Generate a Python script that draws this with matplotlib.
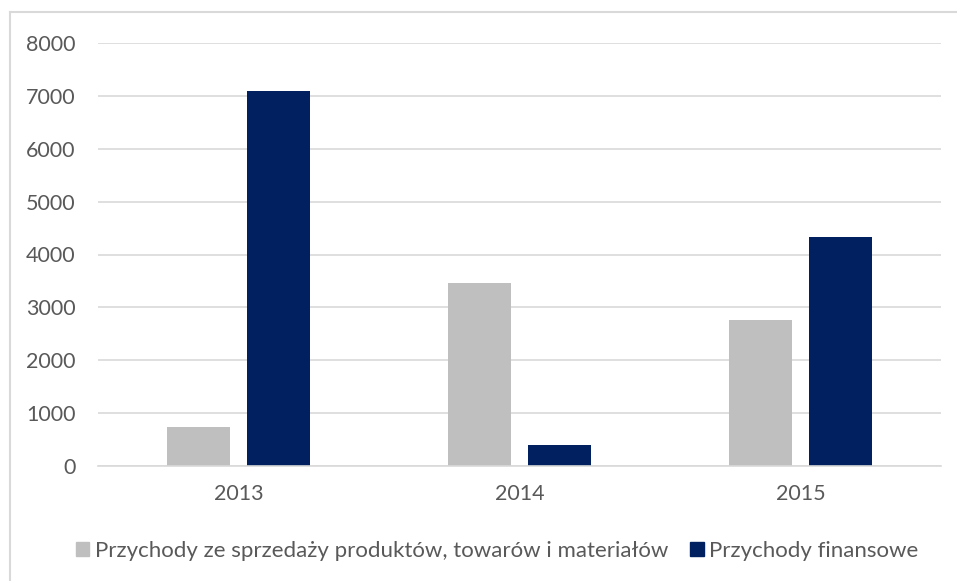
import numpy as np
import matplotlib.pyplot as plt
from matplotlib.lines import Line2D
from matplotlib.patches import Patch

# DATA
years = ['2013', '2014', '2015']
sprzedaz = [735, 3460, 2770]
finansowe = [7090, 400, 4340]
series_names = ['Przychody ze sprzedaży produktów, towarów i materiałów', 'Przychody finansowe']
yticks = [0, 1000, 2000, 3000, 4000, 5000, 6000, 7000, 8000]

grayColor = '#bfbfbf'
navyColor = '#002060'
textColor = '#595959'
gridColor = '#d9d9d9'

plt.rcParams['font.family'] = ['Lato', 'DejaVu Sans']

fig = plt.figure(figsize=(9.57, 5.81), dpi=100)
ax = fig.add_axes([98 / 957, 1 - 466 / 581, (941 - 98) / 957, (466 - 43) / 581])

x = np.arange(len(years))
width = 0.224
gap = 0.06
ax.bar(x - (width + gap) / 2, sprzedaz, width, color=grayColor, zorder=3)
ax.bar(x + (width + gap) / 2, finansowe, width, color=navyColor, zorder=3)

ax.set_xlim(-0.5, 2.5)
ax.set_ylim(0, 8000)
ax.set_yticks(yticks)
ax.set_yticklabels([str(v) for v in yticks])
ax.set_xticks(x)
ax.set_xticklabels(years)
ax.tick_params(length=0, labelsize=15.5, labelcolor=textColor)
ax.tick_params(axis='y', pad=16)
ax.tick_params(axis='x', pad=13)

ax.yaxis.grid(True, color=gridColor, linewidth=1.2, zorder=0)
for side in ['top', 'right', 'left']:
    ax.spines[side].set_visible(False)
ax.spines['bottom'].set_color(gridColor)
ax.spines['bottom'].set_linewidth(1.2)
ax.spines['bottom'].set_zorder(4)

# outer chart border (only left and top visible)
fig.add_artist(Line2D([10 / 957, 10 / 957], [0, 1 - 12 / 581], color=gridColor, linewidth=1.5))
fig.add_artist(Line2D([10 / 957, 1], [1 - 12 / 581, 1 - 12 / 581], color=gridColor, linewidth=1.5))

handles = [Patch(color=grayColor), Patch(color=navyColor)]
fig.legend(handles, series_names, loc='center', bbox_to_anchor=(497 / 957, 1 - 551 / 581),
           ncol=2, frameon=False, fontsize=16, labelcolor=textColor,
           handlelength=0.6, handleheight=0.6, handletextpad=0.25, columnspacing=1.0)

fig.savefig('out.png', dpi=100)
